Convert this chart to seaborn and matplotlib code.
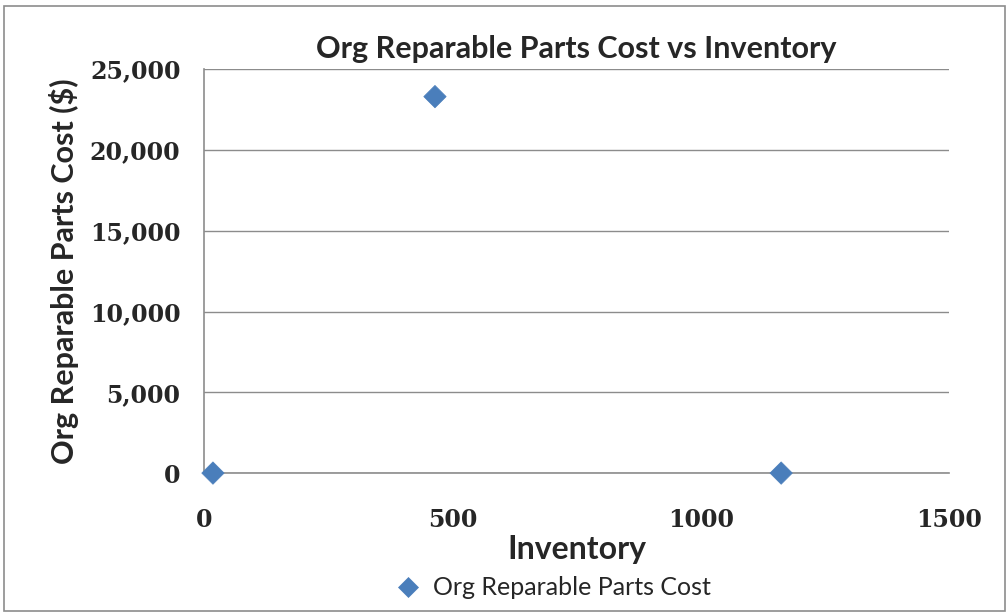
import pandas as pd
import seaborn as sns
import matplotlib.pyplot as plt
from matplotlib.patches import Rectangle
from matplotlib.ticker import FuncFormatter

# Data
inventory = [18, 465, 1162]
cost = [0, 23300, 0]
series_name = "Org Reparable Parts Cost"

df = pd.DataFrame({"Inventory": inventory, "Cost": cost, "Series": series_name})

sns.set_style("white")
plt.rcParams['font.family'] = ['Lato', 'DejaVu Sans']

fig = plt.figure(figsize=(10.08, 6.12), dpi=100)
ax = fig.add_axes([0.2024, 0.227, 0.7391, 0.660])

# outer chart frame
fig.patches.append(Rectangle((0.004, 0.002), 0.993, 0.988, transform=fig.transFigure,
                             fill=False, edgecolor='#8c8c8c', linewidth=1.2))

sns.scatterplot(data=df, x="Inventory", y="Cost", hue="Series", palette=['#4A7EBB'],
                marker='D', s=130, edgecolor='#4A7EBB', linewidth=0.5, ax=ax,
                zorder=3, clip_on=False)

ax.set_xlim(0, 1500)
ax.set_ylim(0, 25000)
ax.set_xticks([0, 500, 1000, 1500])
ax.set_yticks(range(0, 25001, 5000))
ax.yaxis.set_major_formatter(FuncFormatter(lambda v, p: f"{int(v):,}"))

ax.grid(axis='y', color='#8c8c8c', linewidth=1)
ax.set_axisbelow(True)
for side in ['top', 'right']:
    ax.spines[side].set_visible(False)
for side in ['left', 'bottom']:
    ax.spines[side].set_color('#8c8c8c')
    ax.spines[side].set_linewidth(1.2)

ax.tick_params(axis='both', which='major', direction='out', length=7, width=1,
               color='#8c8c8c')
ax.tick_params(axis='x', pad=18)
ax.tick_params(axis='y', pad=10)
for lbl in ax.get_xticklabels() + ax.get_yticklabels():
    lbl.set_family(['DejaVu Serif'])
    lbl.set_fontsize(17)
    lbl.set_fontweight('bold')

ax.set_title("Org Reparable Parts Cost vs Inventory", fontsize=22, fontweight='bold', pad=8)
ax.set_xlabel("Inventory", fontsize=23, fontweight='bold', labelpad=2)
ax.set_ylabel("Org Reparable Parts Cost ($)", fontsize=22, fontweight='bold', labelpad=8)

leg = ax.legend(loc='upper center', bbox_to_anchor=(0.46, -0.2), frameon=False,
                fontsize=18, handletextpad=0.0, markerscale=0.9)

fig.savefig("out.png", dpi=100)
